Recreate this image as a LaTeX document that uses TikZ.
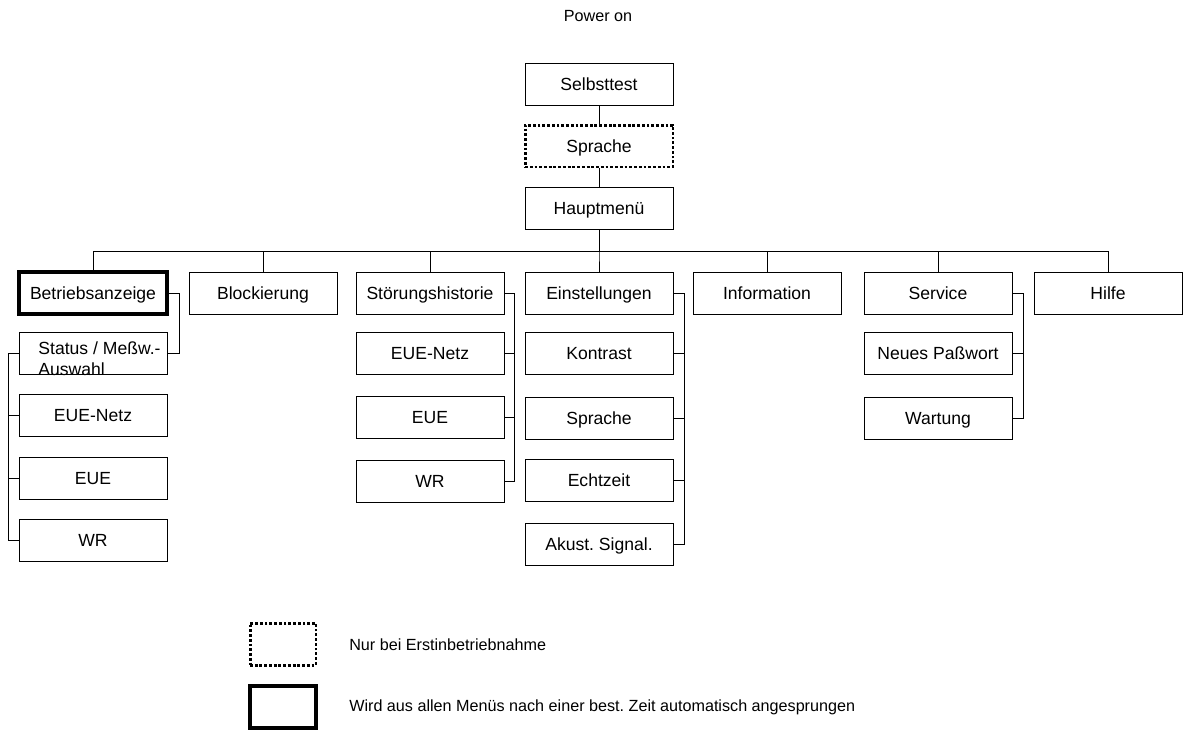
\documentclass[tikz,border=0pt]{standalone}
\usepackage{fontspec}
\setmainfont{Liberation Sans}

\begin{document}
\begin{tikzpicture}[x=0.02cm,y=-0.02cm,line width=0.5pt,
    box/.style={draw,minimum width=2.96cm,minimum height=0.84cm,inner sep=1pt,
      text height=7.2pt,text depth=0pt,font=\fontsize{10}{12}\selectfont},
    onlyfirst/.style={box,line width=1.7pt,dash pattern=on 1.6pt off 1.1pt},
    autojump/.style={box,line width=1.8pt},
    note/.style={font=\fontsize{9.2}{11}\selectfont}]
  \useasboundingbox (0,0) rectangle (1183,731);
  \node[note] (power) at (598,16) {Power on};
  \node[box] (selbst) at (599,84) {Selbsttest};
  \node[onlyfirst] (sprache) at (599,146) {Sprache};
  \node[box] (haupt) at (599,208) {Hauptmen\"u};
  \draw (selbst) -- (sprache);
  \draw (sprache) -- (haupt);
  % top row
  \node[autojump] (betr) at (93,293) {Betriebsanzeige};
  \draw (haupt.south) -- ++(0,22) -| (betr.north);
  \foreach \n/\x/\t in {block/263/Blockierung, stoer/430/St\"orungshistorie,
      einst/599/Einstellungen, info/767/Information, serv/938/Service, hilfe/1108/Hilfe}
  {
    \node[box] (\n) at (\x,293) {\t};
    \draw (haupt.south) -- ++(0,22) -| (\n.north);
  }
  % Betriebsanzeige
  \node[box] (status) at (93,353) {};
  \node[draw=none,inner sep=0pt,align=left,anchor=north west,
    font=\fontsize{10}{12.2}\selectfont]
    (statustxt) at (38,341) {Status / Me\ss w.-\\Auswahl};
  \draw (betr.east) -- ++(11,0) |- (status.east);
  \foreach \n/\y/\t in {bnetz/415/EUE-Netz, beue/478/EUE, bwr/540/WR}
  {
    \node[box] (\n) at (93,\y) {\t};
    \draw (status.west) -- ++(-10,0) |- (\n.west);
  }
  % Stoerungshistorie
  \foreach \n/\y/\t in {snetz/353/EUE-Netz, seue/417/EUE, swr/481/WR}
  {
    \node[box] (\n) at (430,\y) {\t};
    \draw (stoer.east) -- ++(10,0) |- (\n.east);
  }
  % Einstellungen
  \foreach \n/\y/\t in {kontr/353/Kontrast, esprache/418/Sprache, zeit/480/Echtzeit,
      signal/544/Akust.\ Signal.}
  {
    \node[box] (\n) at (599,\y) {\t};
    \draw (einst.east) -- ++(11,0) |- (\n.east);
  }
  % Service
  \foreach \n/\y/\t in {pass/353/Neues Pa\ss wort, wart/418/Wartung}
  {
    \node[box] (\n) at (938,\y) {\t};
    \draw (serv.east) -- ++(11,0) |- (\n.east);
  }
  % legend
  \node[onlyfirst,minimum width=1.32cm] (leg1) at (283,644) {};
  \node[autojump,minimum width=1.32cm] (leg2) at (283,707) {};
  \node[note,anchor=west] (leg1txt) at (343,645) {Nur bei Erstinbetriebnahme};
  \node[note,anchor=west] (leg2txt) at (343,707)
    {Wird aus allen Men\"us nach einer best.\ Zeit automatisch angesprungen};
\end{tikzpicture}
\end{document}
